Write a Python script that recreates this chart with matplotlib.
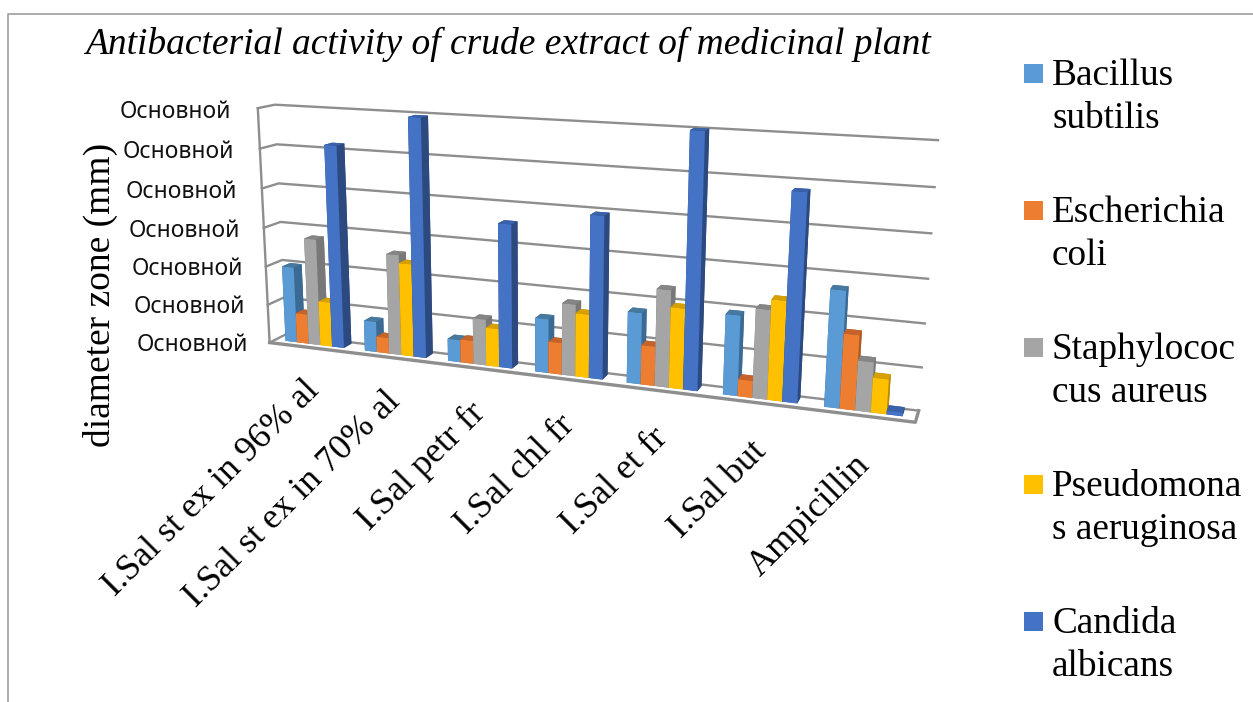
import numpy as np
import matplotlib
matplotlib.use("Agg")
import matplotlib.pyplot as plt
from matplotlib.lines import Line2D
from matplotlib.patches import Rectangle
from mpl_toolkits.mplot3d import proj3d

W, H = 1253, 702

categories = ["I.Sal st ex in 96% al", "I.Sal st ex in 70% al", "I.Sal petr fr",
              "I.Sal chl fr", "I.Sal et fr", "I.Sal but", "Ampicillin"]
tick_labels = ["Основной"] * 7
series_names = [("Bacillus", "subtilis"), ("Escherichia", "coli"), ("Staphylococ", "cus aureus"),
                ("Pseudomona", "s aeruginosa"), ("Candida", "albicans")]

# in gridline units
bacillus = [1.97, 0.78, 0.56, 1.33, 1.72, 1.90, 2.70]
escherichia = [0.77, 0.40, 0.58, 0.78, 0.95, 0.40, 1.73]
staphylococcus = [2.75, 2.55, 1.15, 1.76, 2.33, 2.10, 1.15]
pseudomonas = [1.15, 2.35, 0.95, 1.55, 1.93, 2.34, 0.80]
candida = [5.15, 5.95, 3.55, 3.93, 6.00, 4.80, 0.08]
series = [bacillus, escherichia, staphylococcus, pseudomonas, candida]

front_colors = ["#5B9BD5", "#ED7D31", "#A5A5A5", "#FFC000", "#4472C4"]
top_colors = ["#47799F", "#C5632A", "#858585", "#D6A000", "#3A62AA"]
side_colors = ["#3B6A94", "#AE5A22", "#787878", "#B88A00", "#2C4A80"]
grid_color = "#8E8E8E"
serif = "Liberation Serif"


def px(x, y):
    return x / W, 1 - y / H


fig = plt.figure(figsize=(W / 100, H / 100), dpi=100)
ax = fig.add_axes([0.16191, 0.11791, 0.57168, 1.02040], projection="3d")
ax.computed_zorder = False
ax.set_axis_off()
ax.view_init(elev=13.3605, azim=-70.1707, roll=-0.3109)
ax.set_proj_type("persp", focal_length=0.3362)
ax.set_box_aspect((1, 0.0474, 0.3737))
ax.set_xlim(0, 7)
ax.set_ylim(0, 1)
ax.set_zlim(0, 6)


def flat_text(x, y, z, label, **kw):
    # Text3D throws away rotation, so project the anchor and place plain text
    x2, y2, _ = proj3d.proj_transform(x, y, z, ax.get_proj())
    ax.text2D(x2, y2, label, transform=ax.transData, **kw)


# walls and floor
for level in range(7):
    ax.plot([0, 0, 7], [0, 1, 1], [level, level, level], color=grid_color, lw=1.7, clip_on=False, zorder=1)
ax.plot([0, 0], [0, 0], [0, 6], color=grid_color, lw=1.7, clip_on=False, zorder=1)
ax.plot([0, 7, 7], [0, 0, 1], [0, 0, 0], color=grid_color, lw=2.4, clip_on=False, zorder=1)

# bars, left to right so nearer ones paint over
group_width = 0.74
bar_w = group_width / len(series)
bar_y = 0.36
bar_d = 0.50
order = 2
for c in range(len(categories)):
    for s, values in enumerate(series):
        x = c + 0.13 + s * bar_w
        colors = [top_colors[s], top_colors[s], front_colors[s], side_colors[s], side_colors[s], side_colors[s]]
        ax.bar3d(x, bar_y, 0, bar_w, bar_d, values[c], color=colors, shade=False,
                 edgecolor="none", clip_on=False, zorder=order)
        order += 1

for level, label in enumerate(tick_labels):
    flat_text(-0.28 - 0.009 * level, 0, level - 0.13, label, ha="right", va="center", fontsize=16.5,
              family="Noto Sans", color="#111111")

for c, label in enumerate(categories):
    flat_text(c + 0.62, 0, -1.15, label, rotation=45, rotation_mode="anchor", ha="right", va="baseline",
              fontsize=26, family=serif, color="black")

# outer frame of the chart, cut off by the page
fig.add_artist(Line2D([8 / W, 8 / W, 1], [0, 1 - 14 / H, 1 - 14 / H], color="#A6A6A6", lw=1.3))

x, y = px(85, 54)
fig.text(x, y, "Antibacterial activity of crude extract of medicinal plant", family=serif, style="italic",
         fontsize=26.97, va="baseline", color="black")
x, y = px(100, 295)
fig.text(x, y, "diameter zone (mm)", family=serif, rotation=90, fontsize=27, ha="center", va="center", color="black")

# legend
marker_y = [64, 201, 338, 475, 612]
for s, (first, second) in enumerate(series_names):
    x, y = px(1024, marker_y[s] + 19)
    fig.add_artist(Rectangle((x, y), 19 / W, 19 / H, transform=fig.transFigure, color=front_colors[s], lw=0))
    x, y = px(1052, marker_y[s] + 21)
    fig.text(x, y, first, family=serif, fontsize=26.8, va="baseline", color="black")
    x, y = px(1052, marker_y[s] + 64)
    fig.text(x, y, second, family=serif, fontsize=26.8, va="baseline", color="black")

fig.savefig("out.png", dpi=100)
